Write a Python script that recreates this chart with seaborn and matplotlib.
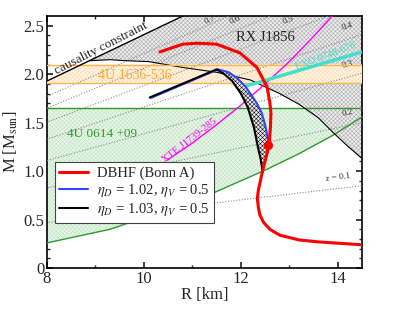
import numpy as np
import matplotlib
matplotlib.use("Agg")
import matplotlib.pyplot as plt
import seaborn as sns

# --- data ---
# DBHF (Bonn A) mass-radius curve
red_R = [14.5, 13.6, 13.2, 12.8, 12.6, 12.47, 12.39, 12.36, 12.34, 12.36, 12.39, 12.45,
         12.54, 12.58, 12.61, 12.62, 12.60, 12.54, 12.33, 11.98, 11.5, 11.1, 10.8, 10.33]
red_M = [0.24, 0.27, 0.29, 0.34, 0.40, 0.47, 0.55, 0.63, 0.72, 0.80, 0.87, 1.01,
         1.18, 1.27, 1.45, 1.60, 1.70, 1.87, 2.07, 2.22, 2.31, 2.32, 2.31, 2.23]
onset_R, onset_M = 12.57, 1.27

# eta_D = 1.02 (blue) and 1.03 (black) hybrid branches
blue_R = [12.57, 12.55, 12.50, 12.43, 12.33, 12.25, 12.10, 11.92, 11.75, 11.53]
blue_M = [1.27, 1.35, 1.48, 1.60, 1.70, 1.76, 1.87, 1.96, 2.02, 2.05]
blue_unst_R, blue_unst_M = [11.53, 10.14], [2.05, 1.755]
black_R = [12.45, 12.41, 12.35, 12.27, 12.14, 12.00, 11.82, 11.66, 11.50]
black_M = [0.99, 1.12, 1.25, 1.45, 1.66, 1.80, 1.93, 2.00, 2.05]
black_unst_R, black_unst_M = [11.50, 10.12], [2.05, 1.76]

# constraints
caus_R, caus_M = [8.0, 10.8], [1.93, 2.6]
rx_R = [8.89, 9.3, 9.6, 10.1, 10.8, 11.5, 12.2, 12.8, 13.2, 13.6, 13.9, 14.2, 14.5]
rx_M = [2.14, 2.15, 2.14, 2.13, 2.07, 2.02, 1.94, 1.80, 1.69, 1.55, 1.40, 1.26, 1.13]
u4_1636 = (1.91, 2.10)
green_top = 1.65
green_R = [8.0, 9.3, 10.0, 11.0, 11.5, 12.5, 13.2, 13.9, 14.5]
green_M = [0.26, 0.40, 0.52, 0.68, 0.79, 1.01, 1.18, 1.37, 1.56]
xte_R = [10.47, 11.0, 11.5, 12.0, 12.5, 13.0, 13.5, 13.9]
xte_M = [1.11, 1.29, 1.48, 1.68, 1.90, 2.13, 2.39, 2.61]
exo_R, exo_M = [12.05, 14.5], [1.87, 2.23]

# gravitational redshift lines (mass at R = 14.5 km)
z_labels = ["z = 0.1", "0.2", "0.3", "0.4", "0.5", "0.6", "0.7"]
z_M_end = [0.85, 1.50, 2.01, 2.41, 2.73, 2.99, 3.21]
z_lab_pos = [(14.0, 0.88), (14.2, 1.55), (14.2, 2.04), (14.2, 2.44), (12.97, 2.5), (11.88, 2.5), (11.36, 2.5)]
z_lab_rot = [7, 12, 15, 18, 20, 22, 24]

x_ticks, x_ticklabels = [8, 10, 12, 14], ["8", "10", "12", "14"]
y_ticks, y_ticklabels = [0, 0.5, 1.0, 1.5, 2.0, 2.5], ["0", "0.5", "1.0", "1.5", "2.0", "2.5"]

# --- style ---
sns.set_theme(style="ticks")
plt.rcParams["font.family"] = "serif"
plt.rcParams["font.serif"] = ["Liberation Serif", "DejaVu Serif"]
plt.rcParams["mathtext.fontset"] = "stix"
plt.rcParams["hatch.linewidth"] = 0.35

fig = plt.figure(figsize=(4.07, 3.15), dpi=100)
ax = fig.add_axes([0.1155, 0.149, 0.774, 0.80])

# green band: 4U 0614+09
ax.fill_between(green_R, green_M, green_top, facecolor="#e8f6e8", edgecolor="#bfe2bf",
                hatch="xxxxxxxx", linewidth=0, zorder=1)
ax.plot(green_R, green_M, color="#2e9a2e", lw=1.0, zorder=5)
ax.axhline(green_top, color="#2e9a2e", lw=1.0, zorder=5)

# gray region: RX J1856
rx_up = np.interp(rx_R, caus_R, caus_M)
ax.fill_between(rx_R, rx_M, rx_up, facecolor="#ececec", edgecolor="#a8a8a8",
                hatch="xxxxxxxx", linewidth=0, zorder=2)
ax.plot(rx_R, rx_M, color="black", lw=0.8, zorder=5)

# orange band: 4U 1636-536, clipped by causality
Rg = np.linspace(8, 14.5, 300)
o_up = np.minimum(u4_1636[1], np.interp(Rg, caus_R, caus_M))
ax.fill_between(Rg, u4_1636[0], o_up, where=o_up > u4_1636[0], facecolor="#fff4e4",
                edgecolor="#ffdcae", hatch="xxxxxxxx", linewidth=0, zorder=3)
ax.axhline(u4_1636[0], color="#ffb650", lw=1.0, zorder=5)
ax.axhline(u4_1636[1], color="#ffb650", lw=1.0, zorder=5)

# causality line
ax.plot(caus_R, caus_M, color="black", lw=1.0, zorder=5)

# redshift lines
for m_end, lab, pos, rot in zip(z_M_end, z_labels, z_lab_pos, z_lab_rot):
    ax.plot([0, 14.5], [0, m_end], color="#8a8a8a", lw=0.8, ls=(0, (1, 1.5)), zorder=4)
    ax.text(pos[0], pos[1], lab, fontsize=6.5, color="#333333", rotation=rot,
            ha="center", va="bottom", zorder=4)

# XTE and EXO
ax.plot(xte_R, xte_M, color="magenta", lw=1.0, zorder=5)
ax.plot(exo_R, exo_M, color="#40e0d0", lw=2.5, zorder=5, solid_capstyle="butt")

# hatched band between the two hybrid branches
Mg = np.linspace(black_M[0], black_M[-1], 200)
ext_M = [m for m in red_M[:13] if m < onset_M] + blue_M
ext_R = [r for r, m in zip(red_R[:13], red_M[:13]) if m < onset_M] + blue_R
ax.fill_betweenx(Mg, np.interp(Mg, black_M, black_R), np.interp(Mg, ext_M, ext_R),
                 facecolor="#e8e8e8", edgecolor="black", hatch="xxxxxxxx", linewidth=0, zorder=6)

# EoS curves
sns.lineplot(x=red_R, y=red_M, sort=False, estimator=None, color="red", lw=2.2,
             label="DBHF (Bonn A)", ax=ax, zorder=8)
sns.lineplot(x=blue_R + blue_unst_R[1:], y=blue_M + blue_unst_M[1:], sort=False, estimator=None,
             color="#3344ff", lw=1.5, label=r"$\eta_D$ = 1.02, $\eta_V$ = 0.5", ax=ax, zorder=7)
sns.lineplot(x=black_R + black_unst_R[1:], y=black_M + black_unst_M[1:], sort=False, estimator=None,
             color="black", lw=1.5, label=r"$\eta_D$ = 1.03, $\eta_V$ = 0.5", ax=ax, zorder=7)
ax.plot([onset_R], [onset_M], "o", color="red", ms=5.5, zorder=9)

# annotations
ax.text(9.11, 2.27, "causality constraint", fontsize=9.5, rotation=27, ha="center", va="center", zorder=6)
ax.text(12.5, 2.38, "RX J1856", fontsize=10.5, ha="center", va="center", zorder=6)
ax.text(9.81, 1.985, "4U 1636-536", fontsize=10, color="#ffab33", ha="center", va="center", zorder=6)
ax.text(9.13, 1.38, "4U 0614 +09", fontsize=9.5, color="#2e9a2e", ha="center", va="center", zorder=6)
ax.text(10.95, 1.32, "XTE J1739-285", fontsize=7.5, color="magenta", rotation=38,
        ha="center", va="center", zorder=6)
ax.text(13.75, 2.19, "EXO 0748-676", fontsize=7.5, color="#40e0d0", rotation=21,
        ha="center", va="center", zorder=6)

# axes
ax.set_xlim(8, 14.5)
ax.set_ylim(0, 2.6)
ax.set_xticks(x_ticks)
ax.set_xticklabels(x_ticklabels)
ax.set_yticks(y_ticks)
ax.set_yticklabels(y_ticklabels)
ax.set_xticks(np.arange(9, 14.5, 2), minor=True)
ax.set_yticks(np.arange(0, 2.6, 0.1), minor=True)
ax.tick_params(which="both", direction="in", top=True, right=True, labelsize=12, pad=2)
ax.tick_params(which="major", length=4)
ax.tick_params(which="minor", length=2)
for s in ax.spines.values():
    s.set_linewidth(1.2)
    s.set_color("black")
ax.set_xlabel("R [km]", fontsize=12, labelpad=0)
ax.set_ylabel(r"M [M$_{\rm sun}$]", fontsize=12, labelpad=2)

leg = ax.legend(loc="lower left", bbox_to_anchor=(0.025, 0.18), fontsize=10.5, frameon=True,
                fancybox=False, framealpha=1, edgecolor="#444444", handlelength=2.0,
                borderpad=0.3, labelspacing=0.15, handletextpad=0.6, borderaxespad=0)
leg.set_zorder(10)
leg.get_frame().set_linewidth(0.8)

fig.savefig("out.png", dpi=100)
